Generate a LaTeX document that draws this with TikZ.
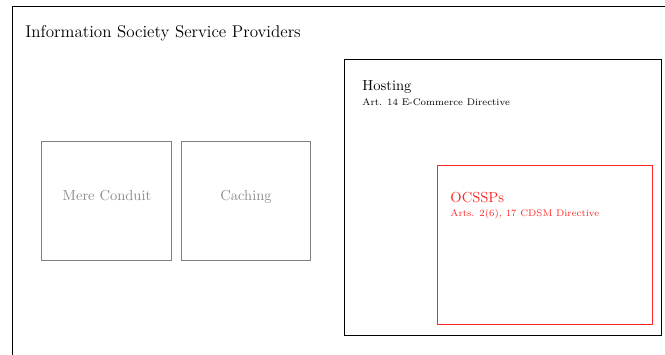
\documentclass[tikz,border=0pt]{standalone}
\usetikzlibrary{fit}
\definecolor{boxgray}{gray}{0.5}
\definecolor{textgray}{gray}{0.55}
\definecolor{ocred}{rgb}{1,0.15,0.15}
\begin{document}
\begin{tikzpicture}[x=0.6873pt,y=-0.6873pt,line width=0.6pt,
  frame/.style={draw=black,inner sep=0pt,line width=0.6pt},
  graybox/.style={draw=boxgray,inner sep=0pt,line width=0.55pt},
  redbox/.style={draw=ocred,inner sep=0pt,line width=0.6pt},
  lbl/.style={anchor=base west,inner sep=0pt,align=left},
  small/.style={font=\fontsize{6.6}{8}\selectfont}]
\useasboundingbox (0,0) rectangle (665,354);
\clip (0,0) rectangle (665,354);
% outer frame (extends beyond the visible area)
\coordinate (isspTL) at (12,6);
\coordinate (isspBR) at (720,420);
\node[frame,fit=(isspTL)(isspBR)] (issp) {};
\node[lbl,font=\fontsize{11.7}{14}\selectfont] (isspT) at (25,37) {Information Society Service Providers};
% mere conduit
\coordinate (mcTL) at (41,141);
\coordinate (mcBR) at (171,260);
\node[graybox,fit=(mcTL)(mcBR)] (mc) {};
\node[anchor=base,inner sep=0pt,text=textgray] (mcT) at (107,200) {Mere Conduit};
% caching
\coordinate (caTL) at (181,141);
\coordinate (caBR) at (310,260);
\node[graybox,fit=(caTL)(caBR)] (ca) {};
\node[anchor=base,inner sep=0pt,text=textgray] (caT) at (246,200) {Caching};
% hosting
\coordinate (hoTL) at (344,59);
\coordinate (hoBR) at (661,335);
\node[frame,fit=(hoTL)(hoBR)] (ho) {};
\node[lbl] (hoT) at (362,90) {Hosting};
\node[lbl,small] (hoS) at (362,105) {Art. 14 E-Commerce Directive};
% OCSSPs
\coordinate (ocTL) at (437,165);
\coordinate (ocBR) at (652,324);
\node[redbox,fit=(ocTL)(ocBR)] (oc) {};
\node[lbl,text=ocred] (ocT) at (450,202) {OCSSPs};
\node[lbl,text=ocred,small] (ocS) at (450,216) {Arts. 2(6), 17 CDSM Directive};
\end{tikzpicture}
\end{document}
